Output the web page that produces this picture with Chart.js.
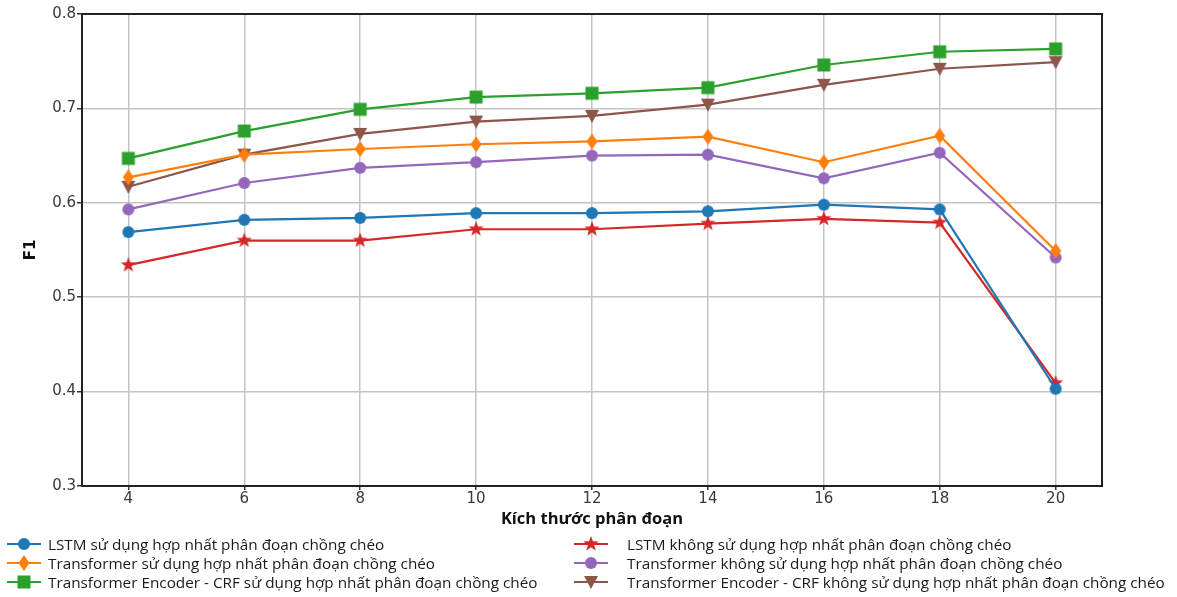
<!DOCTYPE html>
<html><head><meta charset="utf-8">
<script src="https://cdn.jsdelivr.net/npm/chart.js@4.4.1/dist/chart.umd.min.js"></script>
<style>
html,body{margin:0;padding:0;background:#fff;}
#wrap{position:relative;width:1177px;height:597px;overflow:hidden;}
#c{position:absolute;left:0;top:0;}
.lg{position:absolute;height:19px;display:flex;align-items:center;font-family:"Open Sans","Noto Sans",sans-serif;font-size:15.3px;color:#1a1a1a;white-space:nowrap;}
</style>
</head><body>
<div id="wrap"><canvas id="c" width="1177" height="597"></canvas></div>
<script>
const xTicks = [4, 6, 8, 10, 12, 14, 16, 18, 20];
const yTicks = [0.3, 0.4, 0.5, 0.6, 0.7, 0.8];
const xTitle = "Kích thước phân đoạn";
const yTitle = "F1";

const seriesNames = [
  "LSTM sử dụng hợp nhất phân đoạn chồng chéo",
  "Transformer sử dụng hợp nhất phân đoạn chồng chéo",
  "Transformer Encoder - CRF sử dụng hợp nhất phân đoạn chồng chéo",
  "LSTM không sử dụng hợp nhất phân đoạn chồng chéo",
  "Transformer không sử dụng hợp nhất phân đoạn chồng chéo",
  "Transformer Encoder - CRF không sử dụng hợp nhất phân đoạn chồng chéo"
];
const lstmWith      = [0.569, 0.582, 0.584, 0.589, 0.589, 0.591, 0.598, 0.593, 0.403];
const transWith     = [0.627, 0.651, 0.657, 0.662, 0.665, 0.670, 0.643, 0.671, 0.549];
const crfWith       = [0.647, 0.676, 0.699, 0.712, 0.716, 0.722, 0.746, 0.760, 0.763];
const lstmWithout   = [0.534, 0.560, 0.560, 0.572, 0.572, 0.578, 0.583, 0.579, 0.409];
const transWithout  = [0.593, 0.621, 0.637, 0.643, 0.650, 0.651, 0.626, 0.653, 0.542];
const crfWithout    = [0.617, 0.651, 0.673, 0.686, 0.692, 0.704, 0.725, 0.742, 0.749];

const seriesValues = [lstmWith, transWith, crfWith, lstmWithout, transWithout, crfWithout];
const colors = ['#1f77b4', '#ff7f0e', '#2ca02c', '#d62728', '#9467bd', '#8c564b'];
const markers = ['circle', 'thinDiamond', 'square', 'star', 'circle', 'triDown'];

function markerPath(ctx, kind, cx, cy) {
  ctx.beginPath();
  if (kind === 'circle') {
    ctx.arc(cx, cy, 6, 0, Math.PI * 2);
  } else if (kind === 'square') {
    ctx.rect(cx - 6.5, cy - 6.5, 13, 13);
  } else if (kind === 'thinDiamond') {
    ctx.moveTo(cx, cy - 8); ctx.lineTo(cx + 5.5, cy); ctx.lineTo(cx, cy + 8); ctx.lineTo(cx - 5.5, cy); ctx.closePath();
  } else if (kind === 'triDown') {
    ctx.moveTo(cx - 7, cy - 6); ctx.lineTo(cx + 7, cy - 6); ctx.lineTo(cx, cy + 7); ctx.closePath();
  } else if (kind === 'star') {
    for (let i = 0; i < 10; i++) {
      const r = i % 2 === 0 ? 8 : 3.3;
      const a = -Math.PI / 2 + i * Math.PI / 5;
      const px = cx + r * Math.cos(a), py = cy + r * Math.sin(a);
      if (i === 0) ctx.moveTo(px, py); else ctx.lineTo(px, py);
    }
    ctx.closePath();
  }
}
function markerCanvas(kind, color) {
  const cv = document.createElement('canvas');
  cv.width = 18; cv.height = 18;
  const ctx = cv.getContext('2d');
  markerPath(ctx, kind, 9, 9);
  ctx.fillStyle = color; ctx.fill();
  return cv;
}

const datasets = seriesNames.map((name, i) => ({
  label: name,
  data: xTicks.map((x, j) => ({ x: x, y: seriesValues[i][j] })),
  borderColor: colors[i],
  backgroundColor: colors[i],
  borderWidth: 2.2,
  pointStyle: markerCanvas(markers[i], colors[i]),
  pointRadius: 6,
  tension: 0,
  fill: false
}));

const frame = {
  id: 'frame',
  afterDraw(chart) {
    const { ctx, chartArea: a } = chart;
    ctx.save();
    ctx.strokeStyle = '#222';
    ctx.lineWidth = 2;
    ctx.strokeRect(a.left, a.top, a.right - a.left, a.bottom - a.top);
    ctx.restore();
  }
};

new Chart(document.getElementById('c'), {
  type: 'line',
  data: { datasets: datasets },
  plugins: [frame],
  options: {
    responsive: false,
    animation: false,
    layout: { padding: { left: 0, right: 75, top: 14, bottom: 65 } },
    plugins: { legend: { display: false }, tooltip: { enabled: false } },
    scales: {
      x: {
        type: 'linear', min: 3.2, max: 20.8,
        afterBuildTicks: s => { s.ticks = xTicks.map(v => ({ value: v })); },
        afterFit: s => { s.height = 46; },
        grid: { color: '#c4c4c4', lineWidth: 1.5, tickLength: 4, tickColor: '#333' },
        border: { color: '#222', width: 2 },
        ticks: { padding: 0, color: '#3a3a3a', font: { family: 'DejaVu Sans', size: 15 }, callback: v => String(v), maxRotation: 0 },
        title: { display: true, text: xTitle, color: '#111', font: { family: 'Open Sans', size: 16.5, weight: 'bold' }, padding: { top: 0, bottom: 3 } }
      },
      y: {
        type: 'linear', min: 0.3, max: 0.8,
        afterBuildTicks: s => { s.ticks = yTicks.map(v => ({ value: v })); },
        afterFit: s => { s.width = 82; },
        grid: { color: '#c4c4c4', lineWidth: 1.5, tickLength: 5, tickColor: '#333' },
        border: { color: '#222', width: 2 },
        ticks: { padding: 1, color: '#3a3a3a', font: { family: 'DejaVu Sans', size: 15 }, callback: v => Number(v).toFixed(1) },
        title: { display: true, text: yTitle, color: '#111', font: { family: 'DejaVu Sans', size: 15, weight: 'bold' }, padding: { top: 22, bottom: 0 } }
      }
    }
  }
});

// HTML legend, two columns
const wrap = document.getElementById('wrap');
const colX = [6, 573];
const rowY = [534, 553, 572];
seriesNames.forEach((name, i) => {
  const col = Math.floor(i / 3), row = i % 3;
  const d = document.createElement('div');
  d.className = 'lg';
  d.style.left = colX[col] + 'px';
  d.style.top = rowY[row] + 'px';
  const cv = document.createElement('canvas');
  cv.width = 36; cv.height = 18;
  const ctx = cv.getContext('2d');
  ctx.strokeStyle = colors[i]; ctx.lineWidth = 2.2;
  ctx.beginPath(); ctx.moveTo(1, 9); ctx.lineTo(35, 9); ctx.stroke();
  markerPath(ctx, markers[i], 18, 9);
  ctx.fillStyle = colors[i]; ctx.fill();
  cv.style.marginRight = (col === 0 ? 6 : 18) + 'px';
  d.appendChild(cv);
  const t = document.createElement('span');
  t.textContent = name;
  d.appendChild(t);
  wrap.appendChild(d);
});
</script>
</body></html>
